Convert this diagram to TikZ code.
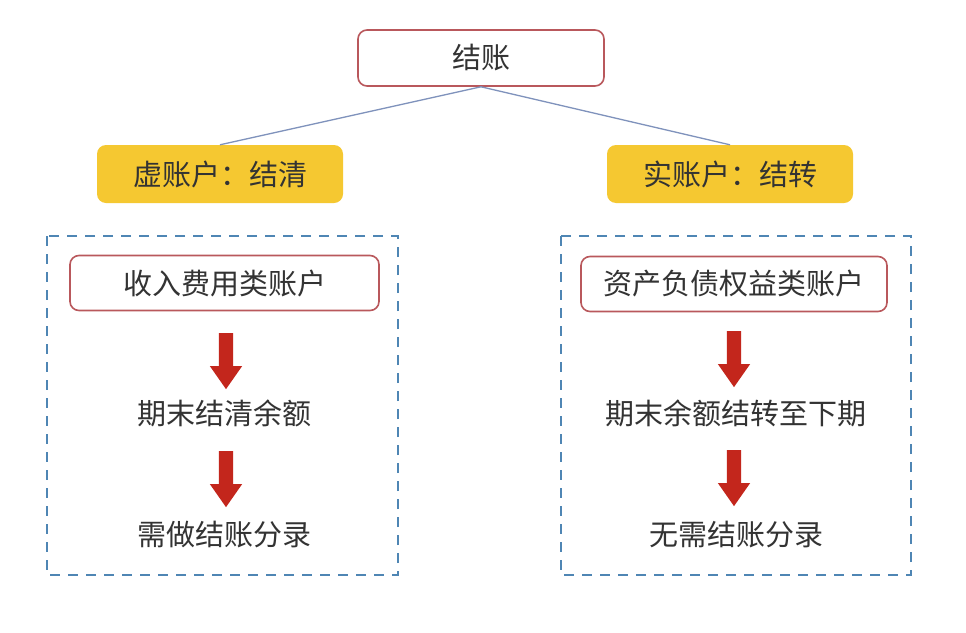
\documentclass[tikz,border=0pt]{standalone}
\usepackage{fontspec}
\setmainfont{Noto Sans CJK SC}
\usetikzlibrary{shapes.arrows}
\definecolor{boxred}{HTML}{B9585C}
\definecolor{linkblue}{HTML}{7F92BC}
\definecolor{gold}{HTML}{F5C831}
\definecolor{dashblue}{HTML}{4F86B4}
\definecolor{txt}{HTML}{333333}
\definecolor{arrred}{HTML}{C3261C}
\tikzset{
  redbox/.style={draw=boxred, line width=1.6pt, rounded corners=9pt, fill=white, text=txt, font=\fontsize{29}{32}\selectfont, inner sep=0pt},
  yellowbox/.style={fill=gold, rounded corners=9pt, text=txt, font=\fontsize{29}{32}\selectfont, inner sep=0pt, minimum width=246pt, minimum height=58pt},
  dashbox/.style={draw=dashblue, line width=2pt, dash pattern=on 10pt off 8pt},
  plain/.style={text=txt, font=\fontsize{29}{32}\selectfont, inner sep=0pt},
  downarrow/.style={single arrow, fill=arrred, draw=none, shape border rotate=270, minimum height=56pt, single arrow head extend=9pt, single arrow tip angle=70, minimum width=32pt, inner sep=0pt, text width=14pt},
  link/.style={draw=linkblue, line width=1.3pt}
}
\begin{document}
\begin{tikzpicture}[x=1pt,y=-1pt]
\useasboundingbox (0,0) rectangle (966,632);
\fill[white] (0,0) rectangle (966,632);
% dashed frames
\draw[dashbox] (47,236) rectangle (398,575);
\draw[dashbox] (561,236) rectangle (911,575);
% top
\node[redbox, minimum width=246pt, minimum height=56pt] (top) at (481,58) {结账};
\node[yellowbox] (left) at (220,174) {虚账户：结清};
\node[yellowbox] (right) at (730,174) {实账户：结转};
\draw[link] (top.south) -- (left.north);
\draw[link] (top.south) -- (right.north);
% left column
\node[redbox, minimum width=309pt, minimum height=55pt] (la) at (224.5,283) {收入费用类账户};
\node[downarrow] (ar1) at (226,356) {};
\node[plain] (lb) at (224,413) {期末结清余额};
\node[downarrow] (ar2) at (226,474) {};
\node[plain] (lc) at (224,535) {需做结账分录};
% right column
\node[redbox, minimum width=306pt, minimum height=55pt] (ra) at (734,284) {资产负债权益类账户};
\node[downarrow] (ar3) at (734,354) {};
\node[plain] (rb) at (736,413) {期末余额结转至下期};
\node[downarrow] (ar4) at (734,473) {};
\node[plain] (rc) at (736,535) {无需结账分录};
\end{tikzpicture}
\end{document}
